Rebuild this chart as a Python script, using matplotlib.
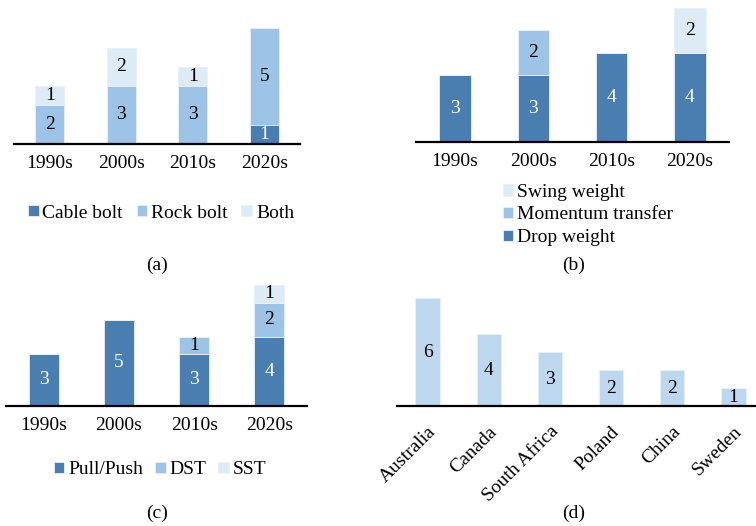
import matplotlib
matplotlib.use("Agg")
import matplotlib.pyplot as plt
import numpy as np

plt.rcParams['font.family'] = ['Liberation Serif', 'DejaVu Serif']
plt.rcParams['font.size'] = 14

# data
decades = ['1990s', '2000s', '2010s', '2020s']
a_cable = [0, 0, 0, 1]
a_rock = [2, 3, 3, 5]
a_both = [1, 2, 1, 0]
b_drop = [3, 3, 4, 4]
b_momentum = [0, 2, 0, 0]
b_swing = [0, 0, 0, 2]
c_pull = [3, 5, 3, 4]
c_dst = [0, 0, 1, 2]
c_sst = [0, 0, 0, 1]
countries = ['Australia', 'Canada', 'South Africa', 'Poland', 'China', 'Sweden']
d_counts = [6, 4, 3, 2, 2, 1]

dark = '#4A7EB1'
mid = '#9DC3E6'
light = '#DDEBF7'
pale = '#BDD7EE'
fs = 14

W, H = 756, 526
fig = plt.figure(figsize=(W / 100, H / 100), dpi=100)


def make_ax(x0, x1, ybase, unit, ymax):
    # axes placed in pixel coordinates
    ax = fig.add_axes([x0 / W, 1 - ybase / H, (x1 - x0) / W, ymax * unit / H])
    ax.set_ylim(0, ymax)
    for s in ['top', 'right', 'left']:
        ax.spines[s].set_visible(False)
    ax.spines['bottom'].set_linewidth(1.6)
    ax.set_yticks([])
    ax.tick_params(axis='x', length=0, pad=8, labelsize=fs)
    ax.patch.set_alpha(0)
    return ax


def stacked(ax, series, colors, textcols, labels):
    x = np.arange(len(decades))
    bottom = np.zeros(len(decades))
    handles = []
    for vals, col, tc, lab in zip(series, colors, textcols, labels):
        vals = np.array(vals, dtype=float)
        h = ax.bar(x, vals, 0.4, bottom=bottom, color=col, label=lab,
                   edgecolor='#E8F0F8', linewidth=0.6)
        handles.append(h)
        for xi, v, b in zip(x, vals, bottom):
            if v > 0:
                ax.text(xi, b + v / 2, str(int(v)), ha='center', va='center',
                        color=tc, fontsize=fs)
        bottom += vals
    ax.set_xticks(x)
    ax.set_xticklabels(decades)
    ax.set_xlim(-0.5, len(decades) - 0.5)
    return handles


leg_kw = dict(frameon=False, fontsize=fs, handlelength=0.55, handleheight=0.55,
              handletextpad=0.2)

# (a)
ax_a = make_ax(14, 300, 143.7, 19.2, 6.6)
h_a = stacked(ax_a, [a_cable, a_rock, a_both], [dark, mid, light],
              ['white', 'black', 'black'], ['Cable bolt', 'Rock bolt', 'Both'])
fig.legend(handles=h_a, loc='center', bbox_to_anchor=(161 / W, 1 - 213 / H),
           ncol=3, columnspacing=0.7, **leg_kw)

# (b)
ax_b = make_ax(416, 729, 142, 22.3, 6.0)
h_b = stacked(ax_b, [b_drop, b_momentum, b_swing], [dark, mid, light],
              ['white', 'black', 'black'], ['Drop weight', 'Momentum transfer', 'Swing weight'])
fig.legend(handles=h_b[::-1], loc='center', bbox_to_anchor=(588 / W, 1 - 215 / H),
           ncol=1, labelspacing=0.3, **leg_kw)

# (c)
ax_c = make_ax(6, 307, 405.7, 17.2, 7.3)
h_c = stacked(ax_c, [c_pull, c_dst, c_sst], [dark, mid, light],
              ['white', 'black', 'black'], ['Pull/Push', 'DST', 'SST'])
fig.legend(handles=h_c, loc='center', bbox_to_anchor=(160 / W, 1 - 470 / H),
           ncol=3, columnspacing=0.6, **leg_kw)

# (d)
ax_d = make_ax(397, 756, 406.3, 18.05, 6.5)
xd = np.arange(len(countries))
ax_d.bar(xd, d_counts, 0.4, color=pale, edgecolor='#E8F0F8', linewidth=0.6)
for xi, v in zip(xd, d_counts):
    ax_d.text(xi, v / 2, str(v), ha='center', va='center', fontsize=fs)
ax_d.set_xlim(-0.5, 5.37)
ax_d.set_xticks(xd)
ax_d.set_xticklabels(countries, rotation=45, ha='right', rotation_mode='anchor')
ax_d.tick_params(axis='x', pad=12)

# captions
fig.text(157 / W, 1 - 265 / H, '(a)', ha='center', va='center', fontsize=fs)
fig.text(574 / W, 1 - 265 / H, '(b)', ha='center', va='center', fontsize=fs)
fig.text(157 / W, 1 - 513 / H, '(c)', ha='center', va='center', fontsize=fs)
fig.text(574 / W, 1 - 513 / H, '(d)', ha='center', va='center', fontsize=fs)

fig.savefig('out.png', dpi=100)
